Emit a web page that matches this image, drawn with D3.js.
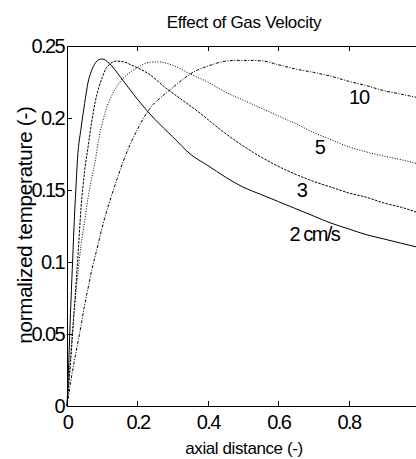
<!DOCTYPE html>
<html>
<head>
<meta charset="utf-8">
<script src="https://cdn.jsdelivr.net/npm/d3@7"></script>
<style>
  body { margin: 0; background: #fff; }
  svg { display: block; font-family: "Liberation Sans", Arial, sans-serif; }
  .axis text { font-size: 20px; letter-spacing: -1.6px; fill: #000; }
  .axis line, .axis path { stroke: #000; stroke-width: 1; shape-rendering: crispEdges; }
</style>
</head>
<body>
<div id="chart"></div>
<script>
// curve for 2 cm/s (solid)
var x2 = [0, 0.005, 0.01, 0.015, 0.02, 0.025, 0.03, 0.04, 0.05, 0.06, 0.07, 0.08, 0.09, 0.1, 0.12, 0.15, 0.2, 0.25, 0.3, 0.35, 0.4, 0.45, 0.5, 0.55, 0.6, 0.65, 0.7, 0.75, 0.8, 0.85, 0.9, 0.95, 1.0];
var t2 = [0, 0.03, 0.065, 0.095, 0.125, 0.15, 0.172, 0.193, 0.21, 0.225, 0.233, 0.238, 0.2405, 0.241, 0.238, 0.229, 0.213, 0.199, 0.187, 0.175, 0.167, 0.159, 0.152, 0.147, 0.142, 0.137, 0.132, 0.127, 0.123, 0.119, 0.116, 0.113, 0.110];
// 3 cm/s (dashed)
var x3 = [0, 0.005, 0.01, 0.02, 0.03, 0.04, 0.05, 0.06, 0.07, 0.08, 0.09, 0.1, 0.11, 0.12, 0.14, 0.16, 0.19, 0.23, 0.28, 0.33, 0.38, 0.43, 0.48, 0.53, 0.58, 0.63, 0.7, 0.75, 0.8, 0.85, 0.9, 0.95, 1.0];
var t3 = [0, 0.015, 0.03, 0.065, 0.1, 0.138, 0.163, 0.18, 0.197, 0.211, 0.221, 0.228, 0.234, 0.237, 0.2395, 0.239, 0.236, 0.231, 0.221, 0.212, 0.203, 0.193, 0.184, 0.176, 0.169, 0.163, 0.156, 0.152, 0.148, 0.145, 0.141, 0.138, 0.134];
// 5 cm/s (dotted)
var x5 = [0, 0.01, 0.02, 0.03, 0.04, 0.05, 0.06, 0.07, 0.08, 0.09, 0.1, 0.11, 0.13, 0.15, 0.17, 0.2, 0.23, 0.26, 0.29, 0.32, 0.35, 0.4, 0.45, 0.5, 0.55, 0.6, 0.65, 0.7, 0.75, 0.8, 0.85, 0.9, 0.95, 1.0];
var t5 = [0, 0.035, 0.065, 0.09, 0.112, 0.128, 0.145, 0.158, 0.17, 0.185, 0.196, 0.205, 0.217, 0.225, 0.23, 0.235, 0.2385, 0.239, 0.2375, 0.2345, 0.2306, 0.225, 0.218, 0.2125, 0.207, 0.2015, 0.196, 0.19, 0.185, 0.18, 0.1765, 0.1735, 0.171, 0.168];
// 10 cm/s (dash-dot)
var x10 = [0, 0.01, 0.02, 0.03, 0.04, 0.05, 0.06, 0.07, 0.08, 0.09, 0.1, 0.12, 0.14, 0.16, 0.18, 0.2, 0.22, 0.24, 0.27, 0.3, 0.33, 0.36, 0.4, 0.44, 0.48, 0.52, 0.56, 0.6, 0.65, 0.7, 0.75, 0.8, 0.85, 0.9, 0.95, 1.0];
var t10 = [0, 0.016, 0.03, 0.043, 0.056, 0.07, 0.082, 0.094, 0.104, 0.114, 0.124, 0.141, 0.156, 0.17, 0.182, 0.192, 0.201, 0.208, 0.215, 0.221, 0.227, 0.232, 0.236, 0.239, 0.24, 0.24, 0.2395, 0.237, 0.234, 0.2317, 0.229, 0.2255, 0.2225, 0.219, 0.2165, 0.214];

var xTicks = [0, 0.2, 0.4, 0.6, 0.8];
var yTicks = [0, 0.05, 0.1, 0.15, 0.2, 0.25];
var yTickLabels = ["0", "0.05", "0.1", "0.15", "0.2", "0.25"];

var series = [
  {xs: x2, ys: t2, dash: null, label: "2 cm/s", lx: 0.632, ly: 0.1146},
  {xs: x3, ys: t3, dash: "2.5,1.2", label: "3", lx: 0.653, ly: 0.145},
  {xs: x5, ys: t5, dash: "1,1.6", label: "5", lx: 0.704, ly: 0.175},
  {xs: x10, ys: t10, dash: "3,1.5,1,1.5", label: "10", lx: 0.801, ly: 0.2097}
];

var margin = {top: 46, right: 0, bottom: 53, left: 67},
    width = 352,
    height = 360;

var svg = d3.select("#chart")
  .append("svg")
  .attr("width", 416)
  .attr("height", 459);

var g = svg.append("g")
  .attr("transform", `translate(${margin.left}, ${margin.top})`);

var x = d3.scaleLinear().domain([0, 1]).range([0, width]);
var y = d3.scaleLinear().domain([0, 0.25]).range([height, 0]);

var line = d3.line()
  .x(function(d) { return x(d[0]); })
  .y(function(d) { return y(d[1]); })
  .curve(d3.curveMonotoneX);

series.forEach(function(s) {
  var pts = s.xs.map(function(v, i) { return [v, s.ys[i]]; });
  g.append("path")
    .datum(pts)
    .attr("fill", "none")
    .attr("stroke", "#000")
    .attr("stroke-width", 1)
    .attr("stroke-dasharray", s.dash)
    .attr("d", line);

  g.append("text")
    .attr("x", x(s.lx))
    .attr("y", y(s.ly))
    .style("font-size", "20px")
    .style("letter-spacing", s.label.length > 2 ? "-1.5px" : "-1px")
    .text(s.label);
});

// axes, ticks pointing inward (right side falls outside the picture)
g.append("g")
  .attr("class", "axis")
  .attr("transform", "translate(0," + height + ")")
  .call(d3.axisBottom(x).tickValues(xTicks).tickFormat(d3.format("")).tickSizeInner(-5).tickSizeOuter(0).tickPadding(9));

g.append("g")
  .attr("class", "axis")
  .call(d3.axisTop(x).tickValues(xTicks.slice(1)).tickFormat("").tickSizeInner(-5).tickSizeOuter(0));

g.append("g")
  .attr("class", "axis")
  .call(d3.axisLeft(y).tickValues(yTicks)
    .tickFormat(function(d, i) { return yTickLabels[i]; })
    .tickSizeInner(-5).tickSizeOuter(0).tickPadding(3));

// title and labels
svg.append("text")
  .attr("x", 244)
  .attr("y", 28)
  .attr("text-anchor", "middle")
  .style("font-size", "17px")
  .style("letter-spacing", "-0.3px")
  .text("Effect of Gas Velocity");

svg.append("text")
  .attr("x", 244)
  .attr("y", 454)
  .attr("text-anchor", "middle")
  .style("font-size", "17px")
  .style("letter-spacing", "-0.4px")
  .text("axial distance (-)");

svg.append("text")
  .attr("transform", "translate(32,225) rotate(-90)")
  .attr("text-anchor", "middle")
  .style("font-size", "20.5px")
  .style("letter-spacing", "-0.2px")
  .text("normalized temperature (-)");
</script>
</body>
</html>
